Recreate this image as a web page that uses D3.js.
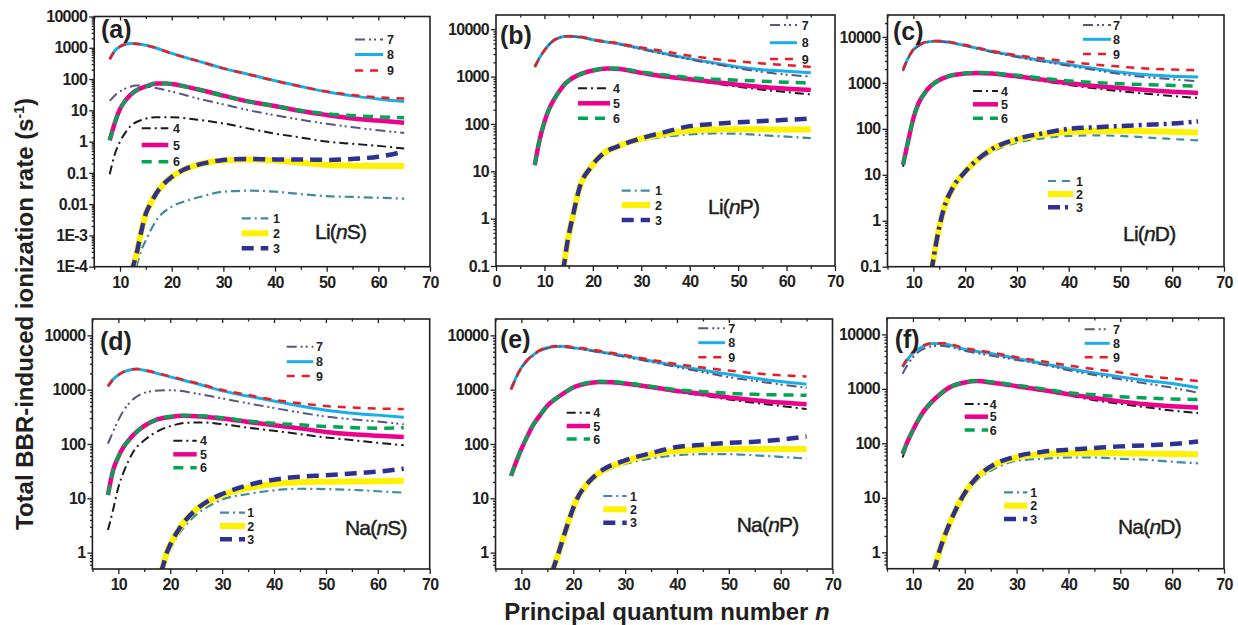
<!DOCTYPE html>
<html><head><meta charset="utf-8">
<script src="https://cdn.jsdelivr.net/npm/d3@7"></script>
<style>body{margin:0;background:#fff}</style>
</head><body><svg id="c" width="1238" height="625"></svg>
<script>
// ---------------- data ----------------
const seriesNames = ['1','2','3','4','5','6','7','8','9'];
const xTicksMain = [10,20,30,40,50,60,70];
const xTicksWithZero = [0,10,20,30,40,50,60,70];
const yTicksLiS = [1e4,1e3,100,10,1,0.1,0.01,1e-3,1e-4];
const yLabelsLiS = ['10000','1000','100','10','1','0.1','0.01','1E-3','1E-4'];
const yTicksLi = [1e4,1e3,100,10,1,0.1];
const yLabelsLi = ['10000','1000','100','10','1','0.1'];
const yTicksNa = [1e4,1e3,100,10,1];
const yLabelsNa = ['10000','1000','100','10','1'];
const panelTags = ['(a)','(b)','(c)','(d)','(e)','(f)'];
const elementNames = [['Li(','S)'],['Li(','P)'],['Li(','D)'],['Na(','S)'],['Na(','P)'],['Na(','D)']];

// each panel: 9 series of [n, rate] pairs (series 1..9)
const LiS = [
 [[13.2,1e-4],[14,3e-4],[15,7e-4],[17,3e-3],[20,8.3e-3],[23,0.013],[26,0.018],[30,0.025],[35,0.027],[40,0.025],[45,0.021],[50,0.018],[55,0.017],[60,0.016],[65,0.015]],
 [[12.2,7e-5],[12.5,1e-4],[13.2,2.6e-4],[14,1.1e-3],[15,5e-3],[16,0.011],[17,0.022],[18.5,0.045],[20,0.074],[22.5,0.13],[25,0.18],[28,0.23],[30,0.25],[35,0.27],[40,0.25],[45,0.21],[50,0.18],[55,0.17],[60,0.166],[65,0.165]],
 [[12.2,7e-5],[12.5,1e-4],[13.2,2.6e-4],[14,1.1e-3],[15,5e-3],[16,0.011],[17,0.022],[18.5,0.045],[20,0.074],[22.5,0.13],[25,0.18],[28,0.23],[30,0.26],[35,0.28],[40,0.27],[45,0.27],[50,0.26],[55,0.28],[60,0.33],[63,0.4],[65,0.5]],
 [[8,0.09],[9,0.4],[10,1.0],[11,1.9],[12,3.1],[14,4.8],[17,6],[20,6],[25,5],[30,3.8],[35,2.6],[40,1.8],[45,1.35],[50,1.0],[55,0.85],[60,0.73],[65,0.6]],
 [[8,1.1],[9,4],[10,11],[11,20],[12,31],[13,42],[15,58],[17,72],[19,72],[20,69],[25,47],[30,29.5],[35,19],[40,13.7],[45,9.5],[50,7.1],[55,5.5],[60,4.7],[65,4.0]],
 [[8,1.1],[9,4],[10,11],[11,20],[12,31],[13,42],[15,58],[17,72],[19,72],[20,69],[25,47],[30,29.5],[35,19],[40,13.7],[45,9.8],[50,7.8],[55,6.8],[60,6.2],[65,5.8]],
 [[8,20],[9,30],[10,40],[12,57],[13,62],[14,62],[16,55],[20,40],[25,24],[30,15.5],[35,10],[40,7],[45,5],[50,3.7],[55,2.9],[60,2.3],[65,1.9]],
 [[8,430],[9,800],[10,1100],[11,1300],[12,1370],[13,1350],[15,1200],[17,980],[20,660],[25,380],[30,220],[35,140],[40,88],[45,58],[50,39],[55,29],[60,23],[65,19]],
 [[8,430],[9,800],[10,1100],[11,1300],[12,1370],[13,1350],[15,1200],[17,980],[20,660],[25,380],[30,220],[35,140],[40,88],[45,58],[50,40],[55,31],[60,26],[65,24]]
];
const LiP = [
 [[14,0.1],[14.6,0.25],[16,1.2],[17.3,4.2],[19.4,10.5],[22.2,22],[25,31],[30,45],[35,54],[40,60],[45,63],[50,62],[55,58],[60,54],[65,50]],
 [[13.8,0.08],[14,0.1],[14.6,0.26],[16,1.3],[17.3,4.7],[19.4,11.5],[22.2,24],[25,33],[30,49],[35,62],[40,72],[45,76],[50,77],[55,77],[60,76],[65,76]],
 [[13.8,0.08],[14,0.1],[14.6,0.26],[16,1.3],[17.3,4.7],[19.4,11.5],[22.2,24],[25,33],[30,50],[35,68],[40,90],[45,100],[50,108],[55,115],[60,122],[65,131]],
 [[8,13.5],[9,46],[10,110],[11,210],[12,330],[13,480],[14,660],[15,820],[17,1080],[20,1350],[23,1470],[25,1440],[30,1170],[35,980],[40,850],[45,720],[50,610],[55,530],[60,470],[65,420]],
 [[8,13.5],[9,46],[10,110],[11,210],[12,330],[13,480],[14,660],[15,820],[17,1080],[20,1350],[23,1480],[25,1460],[30,1200],[35,1000],[40,880],[45,770],[50,670],[55,600],[60,555],[65,520]],
 [[8,13.5],[9,46],[10,110],[11,210],[12,330],[13,480],[14,660],[15,820],[17,1080],[20,1360],[23,1500],[25,1490],[30,1250],[35,1080],[40,950],[45,880],[50,840],[55,800],[60,760],[65,730]],
 [[8,1600],[9,2500],[10,3600],[11,4800],[12,5900],[13,6600],[14,7000],[15,7050],[16,7000],[18,6600],[20,5900],[25,4900],[30,3800],[35,2950],[40,2300],[45,1850],[50,1500],[55,1250],[60,1100],[65,1000]],
 [[8,1600],[9,2500],[10,3600],[11,4800],[12,5900],[13,6600],[14,7000],[15,7100],[16,7050],[18,6700],[20,6000],[25,5000],[30,3900],[35,3050],[40,2400],[45,1950],[50,1600],[55,1400],[60,1300],[65,1200]],
 [[8,1600],[9,2500],[10,3600],[11,4800],[12,5900],[13,6600],[14,7000],[15,7150],[16,7100],[18,6800],[20,6100],[25,5100],[30,4100],[35,3400],[40,2750],[45,2350],[50,2100],[55,1900],[60,1750],[65,1600]]
];
const LiD = [
 [[13.6,0.1],[14.5,0.35],[15.8,1.6],[17.7,5.2],[19.7,10],[22.3,19],[25.5,33],[30,50],[35,62],[40,70],[45,72],[50,70],[55,65],[60,60],[65,56]],
 [[13.4,0.08],[13.6,0.1],[14.5,0.38],[15.8,1.7],[17.7,5.5],[19.7,10.7],[22.3,21],[25.5,38],[30,58],[35,75],[40,85],[45,89],[50,91],[55,89],[60,86],[65,83]],
 [[13.4,0.08],[13.6,0.1],[14.5,0.38],[15.8,1.7],[17.7,5.5],[19.7,10.7],[22.3,21],[25.5,38],[30,60],[35,80],[40,100],[45,108],[50,115],[55,122],[60,130],[65,145]],
 [[8,15],[9,52],[10,165],[11,350],[12,550],[13,770],[14,970],[15,1140],[17,1400],[20,1580],[22.5,1620],[25,1570],[30,1340],[35,1100],[40,900],[45,760],[50,660],[55,580],[60,520],[65,470]],
 [[8,16.6],[9,55],[10,170],[11,360],[12,560],[13,780],[14,980],[15,1150],[17,1420],[20,1600],[22.5,1650],[25,1600],[30,1390],[35,1170],[40,980],[45,860],[50,770],[55,700],[60,640],[65,605]],
 [[8,16.6],[9,55],[10,170],[11,360],[12,560],[13,780],[14,980],[15,1150],[17,1420],[20,1610],[22.5,1680],[25,1650],[30,1460],[35,1260],[40,1100],[45,1020],[50,960],[55,910],[60,880],[65,850]],
 [[8,1800],[9,3400],[10,5100],[11,6300],[12,7200],[13,7800],[14,8000],[15,8000],[17,7500],[20,6400],[25,4750],[30,3650],[35,2900],[40,2350],[45,1900],[50,1550],[55,1330],[60,1200],[65,1080]],
 [[8,1940],[9,3500],[10,5300],[11,6500],[12,7400],[13,7900],[14,8100],[15,8100],[17,7600],[20,6500],[25,4870],[30,3800],[35,3050],[40,2500],[45,2050],[50,1700],[55,1500],[60,1390],[65,1350]],
 [[8,1940],[9,3500],[10,5300],[11,6600],[12,7500],[13,8000],[14,8200],[16,8200],[17,7800],[20,6700],[25,5000],[30,4000],[35,3400],[40,2900],[45,2500],[50,2250],[55,2050],[60,1950],[65,1880]]
];
const NaS = [
 [[18.5,0.5],[19.3,0.8],[20.6,1.5],[22.5,2.8],[25,5.0],[27.5,7.2],[30,9.5],[35,12],[40,14],[45,15],[50,14.8],[55,14.3],[60,13.5],[65,12.7]],
 [[18.1,0.45],[18.4,0.5],[19.3,0.98],[20,1.4],[22,3],[25,6.2],[28,9.5],[30,11.5],[35,15.5],[40,18.3],[45,19.7],[50,20.2],[55,20.5],[60,20.7],[65,21]],
 [[18.1,0.45],[18.4,0.5],[19.3,0.98],[20,1.4],[22,3],[25,6.2],[28,9.8],[30,12],[35,17.5],[40,22],[45,25],[50,26.5],[55,28.5],[60,31],[65,35]],
 [[8,2.6],[9,6.2],[10,16],[11,30],[12,50],[13,75],[15,117],[18,180],[20,213],[23,245],[26,250],[30,232],[35,200],[40,175],[45,152],[50,132],[55,118],[60,105],[65,95]],
 [[8,11.5],[9,33],[10,58],[11,88],[12,117],[13,150],[15,215],[17.5,283],[20,315],[22.5,330],[25,325],[30,295],[35,255],[40,222],[45,194],[50,167],[55,151],[60,142],[65,135]],
 [[8,11.5],[9,33],[10,58],[11,88],[12,117],[13,150],[15,215],[17.5,285],[20,320],[22.5,335],[25,333],[30,305],[35,265],[40,240],[45,225],[50,210],[55,200],[60,195],[65,200]],
 [[8,102],[9,170],[10,275],[11,410],[12,550],[14,790],[17,950],[20,980],[25,850],[30,690],[35,560],[40,460],[45,380],[50,320],[55,285],[60,260],[65,230]],
 [[8,1150],[9,1550],[10,1860],[11,2120],[12,2280],[13.5,2400],[15,2280],[17,2050],[20,1720],[25,1300],[30,950],[35,760],[40,620],[45,500],[50,420],[55,370],[60,340],[65,310]],
 [[8,1150],[9,1550],[10,1860],[11,2120],[12,2280],[13.5,2400],[15,2300],[17,2080],[20,1750],[25,1330],[30,990],[35,800],[40,650],[45,560],[50,500],[55,470],[60,450],[65,440]]
];
const NaP = [
 [[16.1,0.5],[17.1,0.9],[18.7,2.7],[20.6,8.5],[23.2,19],[25.8,30],[30,43],[35,54],[40,62],[45,65],[50,65],[55,62],[60,58],[65,54]],
 [[15.9,0.45],[16.1,0.5],[17.1,0.95],[18.7,2.9],[20.6,9.2],[23.2,21],[25.8,33],[30,48],[35,64],[40,74],[45,79],[50,81],[55,81],[60,81],[65,81]],
 [[15.9,0.45],[16.1,0.5],[17.1,0.95],[18.7,2.9],[20.6,9.2],[23.2,21],[25.8,34],[30,50],[35,68],[40,88],[45,97],[50,105],[55,110],[60,120],[65,138]],
 [[8,26],[9,47],[10,81],[11,130],[12,203],[13.5,330],[15,504],[17.5,780],[20,1100],[22.5,1290],[25,1370],[27.5,1340],[30,1260],[35,1080],[40,900],[45,780],[50,660],[55,570],[60,500],[65,440]],
 [[8,26],[9,47],[10,81],[11,130],[12,203],[13.5,330],[15,504],[17.5,780],[20,1100],[22.5,1300],[25,1390],[27.5,1370],[30,1300],[35,1120],[40,950],[45,830],[50,720],[55,640],[60,580],[65,540]],
 [[8,26],[9,47],[10,81],[11,130],[12,203],[13.5,330],[15,504],[17.5,780],[20,1110],[22.5,1320],[25,1420],[27.5,1410],[30,1340],[35,1150],[40,1000],[45,920],[50,860],[55,820],[60,800],[65,790]],
 [[8,1000],[9,1650],[10,2500],[11,3300],[12,4050],[13.5,5100],[15,5800],[17.5,6200],[20,5800],[25,4900],[30,4000],[35,3250],[40,2600],[45,2100],[50,1700],[55,1450],[60,1250],[65,1080]],
 [[8,1020],[9,1700],[10,2560],[11,3400],[12,4160],[13.5,5200],[15,5900],[17.5,6300],[20,5900],[25,5000],[30,4160],[35,3380],[40,2740],[45,2280],[50,1920],[55,1620],[60,1410],[65,1260]],
 [[8,1020],[9,1700],[10,2560],[11,3400],[12,4200],[13.5,5300],[15,6000],[17.5,6400],[20,6100],[25,5200],[30,4300],[35,3550],[40,2950],[45,2550],[50,2250],[55,2000],[60,1850],[65,1750]]
];
const NaD = [
 [[14.1,0.5],[15.3,1.1],[17.3,3.4],[19.9,10.5],[22.4,21],[25.7,34],[30,48],[35,52],[40,55],[45,55],[50,52],[55,50],[60,46],[65,43]],
 [[13.9,0.45],[14.1,0.5],[15.3,1.2],[17.3,3.8],[19.9,11.8],[22.4,24],[25.7,40],[30,55],[35,63],[40,66],[45,67],[50,66],[55,65],[60,64],[65,63]],
 [[13.9,0.45],[14.1,0.5],[15.3,1.2],[17.3,3.8],[19.9,11.8],[22.4,24],[25.7,41],[30,58],[35,70],[40,76],[45,82],[50,88],[55,92],[60,97],[65,108]],
 [[8,55],[9,100],[10,165],[11,255],[12,365],[13.5,545],[15,745],[17.3,1070],[20,1290],[22.5,1370],[25,1290],[30,1090],[35,910],[40,760],[45,620],[50,530],[55,460],[60,400],[65,360]],
 [[8,64],[9,110],[10,174],[11,265],[12,378],[13.5,560],[15,763],[17.3,1090],[20,1310],[22.5,1390],[25,1310],[30,1120],[35,950],[40,800],[45,680],[50,590],[55,520],[60,480],[65,455]],
 [[8,64],[9,110],[10,174],[11,265],[12,378],[13.5,560],[15,763],[17.3,1090],[20,1320],[22.5,1410],[25,1350],[30,1170],[35,1000],[40,850],[45,780],[50,720],[55,680],[60,650],[65,640]],
 [[8,1900],[9,2800],[10,3800],[12,5400],[14,6100],[15,6200],[17,5900],[20,5000],[25,4100],[30,3400],[35,2800],[40,2200],[45,1800],[50,1500],[55,1250],[60,1050],[65,850]],
 [[8,2500],[9,3500],[10,4500],[12,6100],[14,6800],[16,6700],[20,5300],[25,4470],[30,3620],[35,2930],[40,2360],[45,1950],[50,1660],[55,1430],[60,1250],[65,1050]],
 [[8,2600],[9,3700],[10,4800],[12,6300],[14,6900],[16,6900],[20,5600],[25,4700],[30,3800],[35,3200],[40,2700],[45,2300],[50,2000],[55,1700],[60,1550],[65,1400]]
];

// ---------------- styles & layout ----------------
const FONT = "'Liberation Sans', Arial, Helvetica, sans-serif";
const INK = '#231f20';
const seriesColors = ['#3f8ba3','#fff200','#2e3192','#1a1a1a','#ec008c','#00a651','#56567f','#18aee8','#ed1c24'];
const seriesWidths = [2.2,6,4.5,2,4.5,3.5,2,3,2.5];
const seriesDash = ['9,4,2,4','', '12,7','9,4,2,4','', '10,7','10,4,2,3,2,4','', '8,7'];
const drawOrder = [0,1,2,3,4,5,7,6,8];

const panels = [
 {data:LiS, xr:[94.2,430], yr:[266.7,16.5], xd:[5,70], yd:[1e-4,1e4], xt:xTicksMain, yt:yTicksLiS, yl:yLabelsLiS,
  tag:[101,38], el:[315,239],
  leg:[{g:[6,7,8],x:[355,383],y:[39.5,54.5,70.5],lx:387},{g:[3,4,5],x:[141.7,168.3],y:[128.3,145,161.7],lx:173},{g:[0,1,2],x:[241.7,268.3],y:[218.3,233.3,248.3],lx:273}]},
 {data:LiP, xr:[496,835], yr:[266,15], xd:[0,70], yd:[0.1,20000], xt:xTicksWithZero, yt:yTicksLi, yl:yLabelsLi,
  tag:[500,44], el:[708,214],
  leg:[{g:[6,7,8],x:[770,797],y:[25,42.7,59],lx:801.7},{g:[3,4,5],x:[578,610],y:[88.3,103.3,118.3],lx:613},{g:[0,1,2],x:[621.7,650],y:[190.7,205,220],lx:655}]},
 {data:LiD, xr:[887.5,1224], yr:[266.7,15], xd:[5,70], yd:[0.1,30000], xt:xTicksMain, yt:yTicksLi, yl:yLabelsLi,
  tag:[893,40], el:[1123,241], dashOverride:{0:'8,6',2:'12,5,3,5'},
  leg:[{g:[6,7,8],x:[1083,1111],y:[25,39.3,54],lx:1113},{g:[3,4,5],x:[973,998],y:[91,104.3,118.3],lx:1001},{g:[0,1,2],x:[1048,1073],y:[181,194,207.3],lx:1076}]},
 {data:NaS, xr:[92.4,429.7], yr:[569,319], xd:[5,70], yd:[0.5,20000], xt:xTicksMain, yt:yTicksNa, yl:yLabelsNa,
  tag:[100,350], el:[345,535],
  leg:[{g:[6,7,8],x:[286.7,313.3],y:[346.7,361.7,376],lx:316},{g:[3,4,5],x:[173.3,196.7],y:[440.7,454.3,467.7],lx:200},{g:[0,1,2],x:[220,245],y:[512.7,526,539.3],lx:247.3}]},
 {data:NaP, xr:[495.5,832.5], yr:[569,319], xd:[5,70], yd:[0.5,20000], xt:xTicksMain, yt:yTicksNa, yl:yLabelsNa,
  tag:[500,348], el:[736.7,532],
  leg:[{g:[6,7,8],x:[698.3,725],y:[328.3,342.7,357.3],lx:728.3},{g:[3,4,5],x:[566.7,590],y:[412.7,426,439],lx:593.3},{g:[0,1,2],x:[603.3,626.7],y:[496,509.3,522.7],lx:630}]},
 {data:NaD, xr:[887,1224], yr:[568.7,318], xd:[5,70], yd:[0.5,20000], xt:xTicksMain, yt:yTicksNa, yl:yLabelsNa,
  tag:[894.7,348], el:[1118,534],
  leg:[{g:[6,7,8],x:[1084.7,1109.7],y:[329.3,343.3,357.3],lx:1113},{g:[3,4,5],x:[964.7,988],y:[404,416.7,430],lx:989.7},{g:[0,1,2],x:[1004,1027.3],y:[492.3,505.7,519],lx:1030.3}]}
];

// ---------------- drawing ----------------
const svg = d3.select('#c');
const defs = svg.append('defs');

panels.forEach((p, pi) => {
  const x = d3.scaleLinear().domain(p.xd).range(p.xr);
  const y = d3.scaleLog().domain(p.yd).range(p.yr);
  const g = svg.append('g');
  const [x0, x1] = p.xr, yb = p.yr[0], yt = p.yr[1];

  defs.append('clipPath').attr('id', 'clip' + pi).append('rect')
    .attr('x', x0).attr('y', yt).attr('width', x1 - x0).attr('height', yb - yt);

  const xMinor = d3.range(p.xd[0], p.xd[1] + 0.1, 5).filter(v => v % 10 !== 0);
  const yMinor = [];
  for (let e = -5; e <= 5; e++) for (let k = 2; k <= 9; k++) {
    const v = k * Math.pow(10, e);
    if (v > p.yd[0] * 1.0001 && v < p.yd[1] * 0.9999) yMinor.push(v);
  }

  const styleAxis = sel => {
    sel.select('.domain').remove();
    sel.selectAll('line').attr('stroke', INK).attr('stroke-width', 1.3);
    sel.selectAll('text').attr('font-family', FONT).attr('font-weight', 'bold')
      .attr('font-size', 16).attr('letter-spacing', '-0.7px').attr('fill', INK);
  };

  g.append('g').attr('transform', `translate(0,${yb})`)
    .call(d3.axisBottom(x).tickValues(p.xt).tickSize(5).tickPadding(5).tickFormat(d3.format('d'))).call(styleAxis);
  g.append('g').attr('transform', `translate(0,${yb})`)
    .call(d3.axisBottom(x).tickValues(xMinor).tickSize(3).tickFormat('')).call(styleAxis);
  g.append('g').attr('transform', `translate(0,${yt})`)
    .call(d3.axisBottom(x).tickValues(p.xt.filter(v => v > p.xd[0] && v < p.xd[1])).tickSize(4).tickFormat('')).call(styleAxis);
  g.append('g').attr('transform', `translate(0,${yt})`)
    .call(d3.axisBottom(x).tickValues(xMinor).tickSize(2.5).tickFormat('')).call(styleAxis);
  g.append('g').attr('transform', `translate(${x0},0)`)
    .call(d3.axisLeft(y).tickValues(p.yt).tickSize(5).tickPadding(2).tickFormat((d, i) => p.yl[i])).call(styleAxis);
  g.append('g').attr('transform', `translate(${x0},0)`)
    .call(d3.axisLeft(y).tickValues(yMinor).tickSize(2.5).tickFormat('')).call(styleAxis);

  const line = d3.line().x(d => x(d[0])).y(d => y(d[1])).curve(d3.curveMonotoneX);
  const plot = g.append('g').attr('clip-path', `url(#clip${pi})`);
  const dashFor = i => (p.dashOverride && p.dashOverride[i] !== undefined) ? p.dashOverride[i] : seriesDash[i];
  drawOrder.forEach(i => {
    plot.append('path').datum(p.data[i]).attr('d', line)
      .attr('fill', 'none').attr('stroke', seriesColors[i]).attr('stroke-width', seriesWidths[i])
      .attr('stroke-dasharray', dashFor(i) || null).attr('stroke-linejoin', 'round');
  });

  g.append('rect').attr('x', x0).attr('y', yt).attr('width', x1 - x0).attr('height', yb - yt)
    .attr('fill', 'none').attr('stroke', INK).attr('stroke-width', 1.6);

  g.append('text').attr('x', p.tag[0]).attr('y', p.tag[1]).text(panelTags[pi])
    .attr('font-family', FONT).attr('font-weight', 'bold').attr('font-size', 25).attr('fill', INK);

  const el = g.append('text').attr('x', p.el[0]).attr('y', p.el[1])
    .attr('font-family', FONT).attr('font-size', 21).attr('letter-spacing', '-0.8px')
    .attr('fill', INK).attr('stroke', INK).attr('stroke-width', 0.45);
  el.append('tspan').text(elementNames[pi][0]);
  el.append('tspan').attr('font-style', 'italic').text('n');
  el.append('tspan').text(elementNames[pi][1]);

  p.leg.forEach(L => {
    L.g.forEach((si, k) => {
      g.append('line').attr('x1', L.x[0]).attr('x2', L.x[1]).attr('y1', L.y[k]).attr('y2', L.y[k])
        .attr('stroke', seriesColors[si]).attr('stroke-width', seriesWidths[si])
        .attr('stroke-dasharray', dashFor(si) || null);
      g.append('text').attr('x', L.lx).attr('y', L.y[k] + 4.5).text(seriesNames[si])
        .attr('font-family', FONT).attr('font-weight', 'bold').attr('font-size', 12.5).attr('fill', INK);
    });
  });
});

const yTitle = svg.append('text').attr('transform', 'translate(33,314) rotate(-90)')
  .attr('text-anchor', 'middle').attr('font-family', FONT).attr('font-weight', 'bold')
  .attr('font-size', 24).attr('fill', INK);
yTitle.append('tspan').text('Total BBR-induced ionization rate (s');
yTitle.append('tspan').attr('dy', -9).attr('font-size', 14).text('-1');
yTitle.append('tspan').attr('dy', 9).text(')');

const xTitle = svg.append('text').attr('x', 667).attr('y', 620).attr('text-anchor', 'middle')
  .attr('font-family', FONT).attr('font-weight', 'bold').attr('font-size', 24).attr('fill', INK);
xTitle.append('tspan').text('Principal quantum number ');
xTitle.append('tspan').attr('font-style', 'italic').text('n');
</script>
</body></html>
